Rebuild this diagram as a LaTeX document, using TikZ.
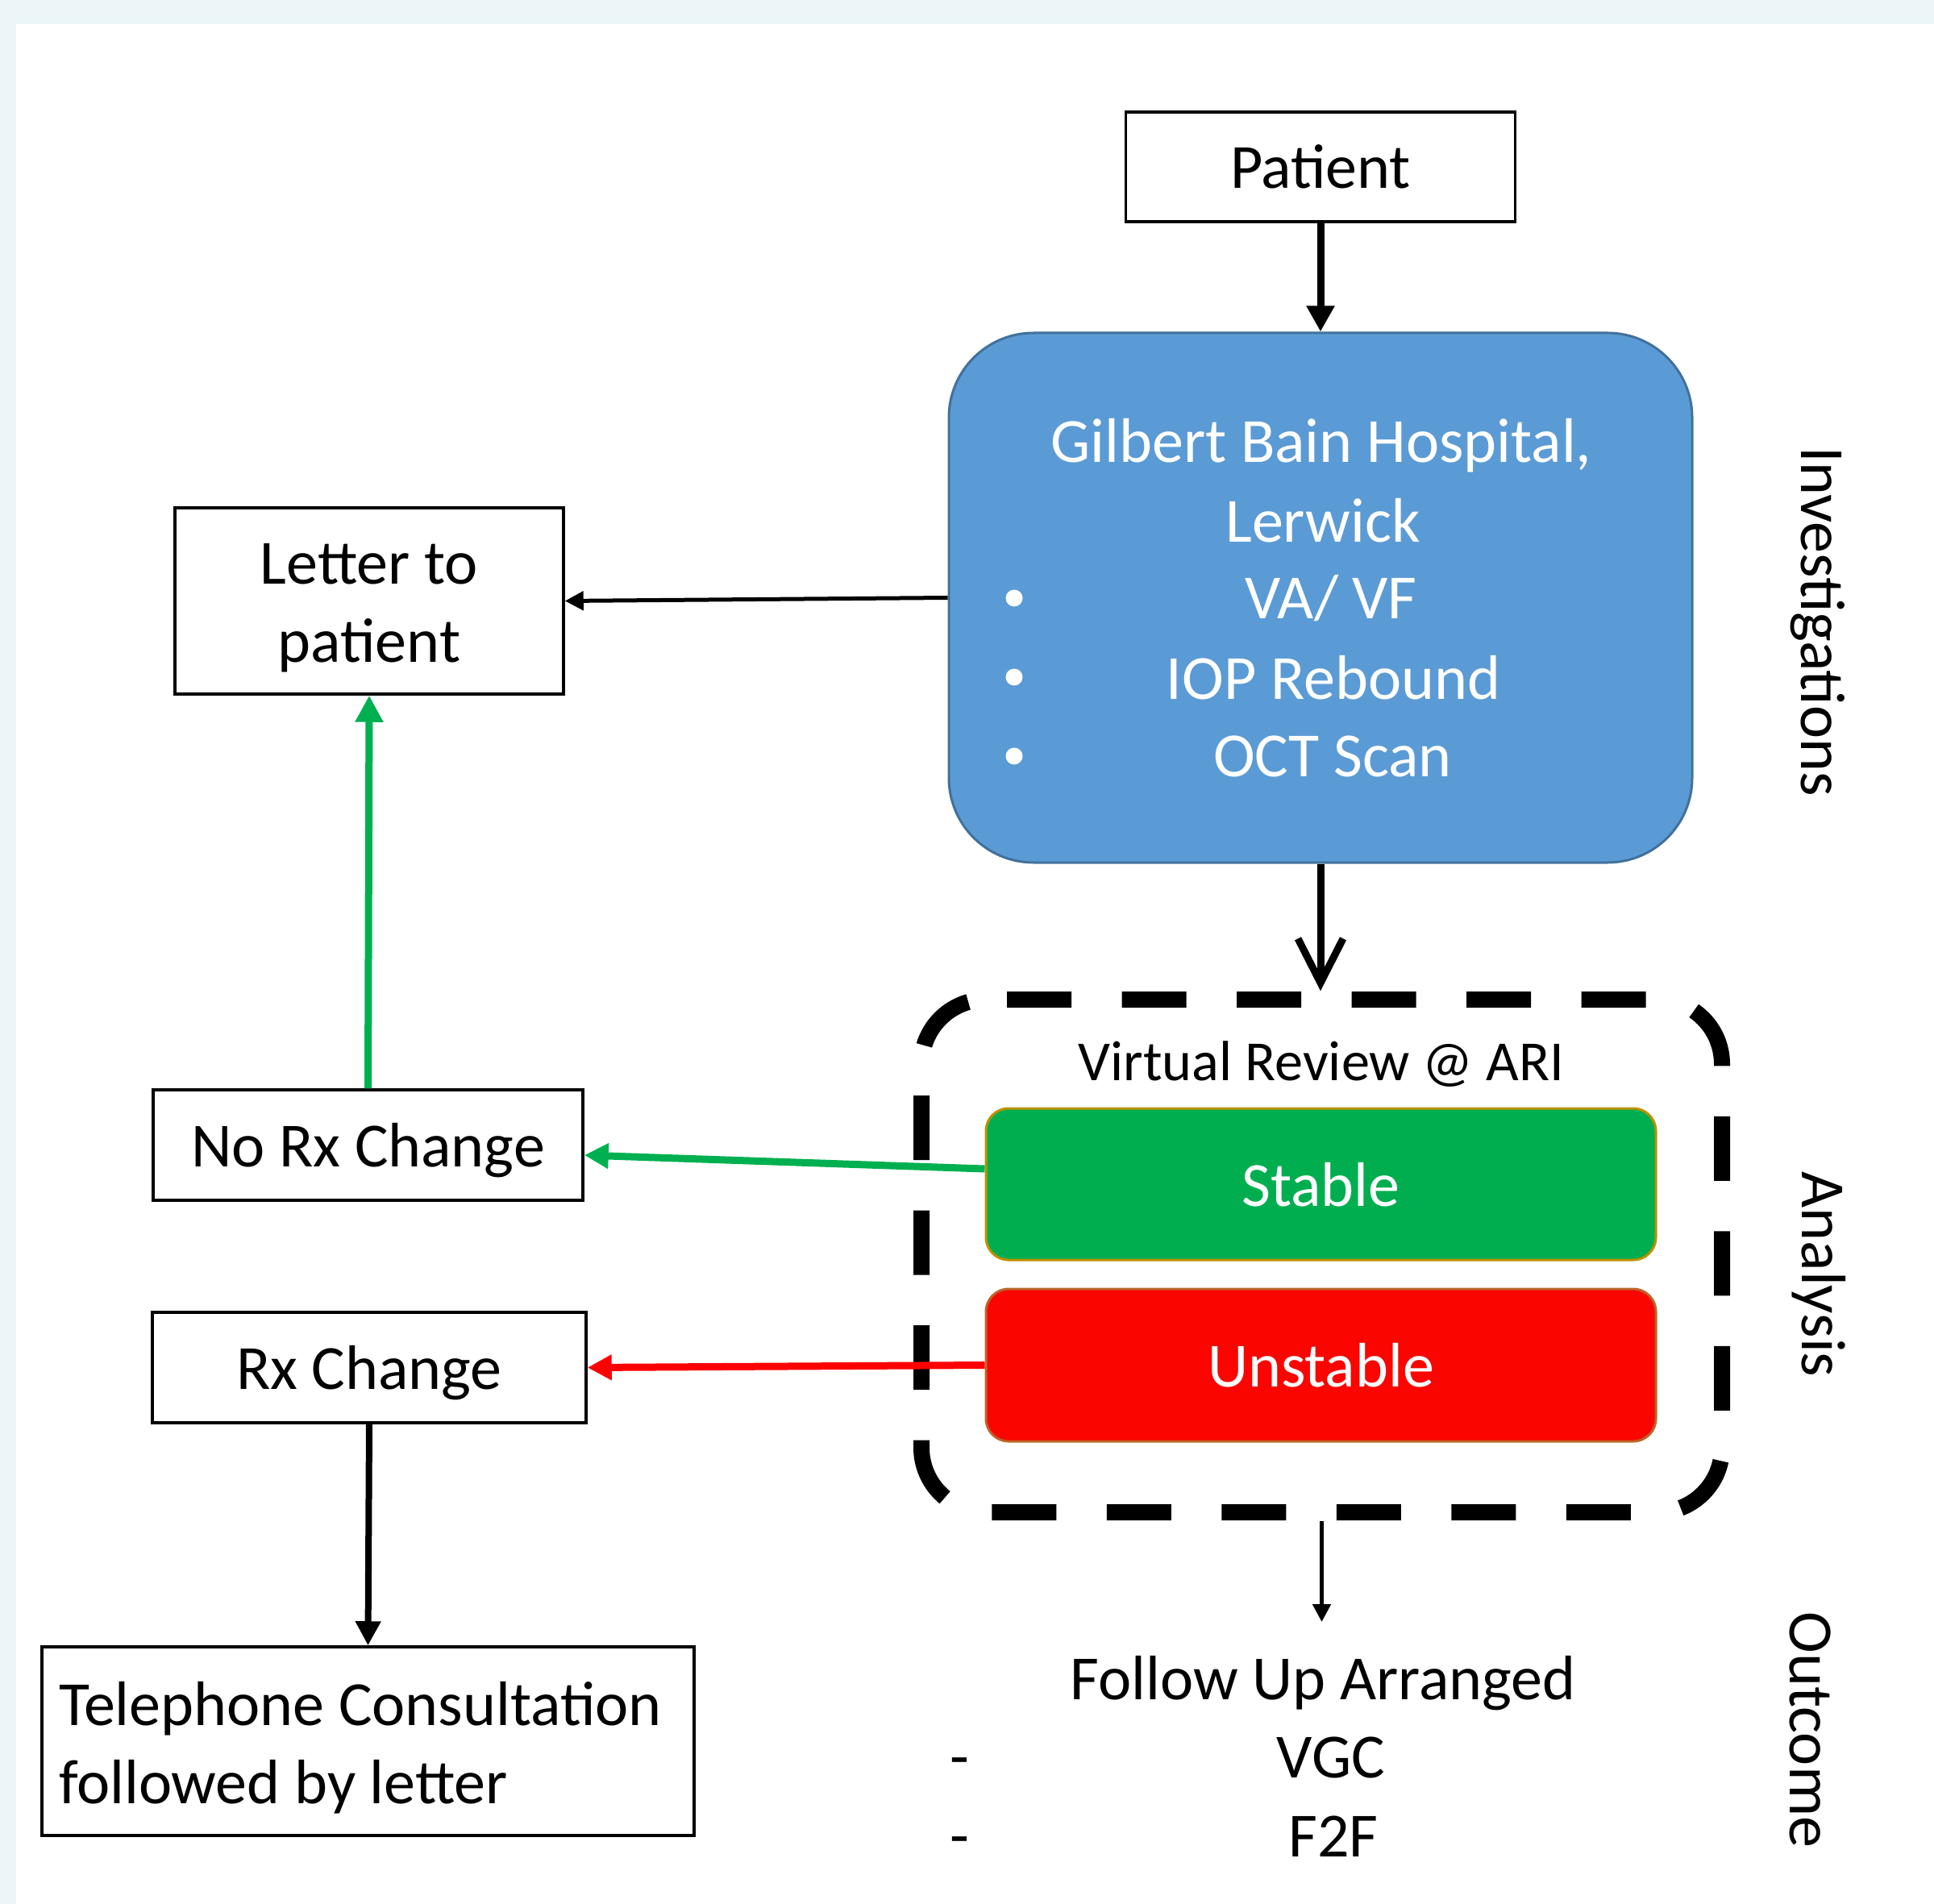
\documentclass[tikz,border=0pt]{standalone}
\usepackage{fontspec}
\setmainfont{Carlito}
\usetikzlibrary{arrows.meta}
\definecolor{bgblue}{RGB}{236,246,249}
\definecolor{gbhfill}{RGB}{91,155,213}
\definecolor{gbhdraw}{RGB}{65,113,156}
\definecolor{stablefill}{RGB}{0,174,80}
\definecolor{stabledraw}{RGB}{191,144,0}
\definecolor{unstablefill}{RGB}{250,5,0}
\definecolor{unstabledraw}{RGB}{190,100,40}
\definecolor{arrgreen}{RGB}{0,176,80}
\definecolor{arrred}{RGB}{255,0,0}
\begin{document}
\begin{tikzpicture}[
  mainfs/.style={font=\fontsize{22.2pt}{27.6pt}\selectfont},
  txt/.style={mainfs, inner sep=0pt},
  whitetxt/.style={txt, text=white},
  sidelabel/.style={txt, rotate=-90, anchor=base},
  plainbox/.style={draw=black, line width=0.035cm, fill=white, mainfs, inner sep=0pt, text depth=0pt},
  multibox/.style={draw=black, line width=0.035cm, fill=white, mainfs, inner sep=0pt},
  bluebox/.style={draw=gbhdraw, fill=gbhfill, line width=0.03cm, rounded corners=1.05cm, inner sep=0pt},
  stablebox/.style={draw=stabledraw, fill=stablefill, line width=0.03cm, rounded corners=0.28cm, mainfs, text=white, inner sep=0pt, text depth=0pt},
  unstablebox/.style={draw=unstabledraw, fill=unstablefill, line width=0.03cm, rounded corners=0.28cm, mainfs, text=white, inner sep=0pt, text depth=0pt},
  frame/.style={line width=0.2cm, dash pattern=on 0.8cm off 0.625cm, dash phase=1.165cm},
  conn/.style={draw=black}
]
\useasboundingbox (0,0) rectangle (23.99,-23.62);
\fill[bgblue] (0,0) rectangle (23.99,-23.62);
\fill[white] (0.20,-0.30) rectangle (23.99,-23.62);

% top box
\node[plainbox, minimum width=4.83cm, minimum height=1.36cm] (patient) at (16.38,-2.07) {Patient};

% blue investigations box
\node[bluebox, minimum width=9.22cm, minimum height=6.57cm] (gbh) at (16.38,-7.415) {};
\node[whitetxt, anchor=base] (gbh1) at (16.39,-5.74) {Gilbert Bain Hospital,};
\node[whitetxt, anchor=base] (gbh2) at (16.41,-6.72) {Lerwick};
\node[whitetxt, anchor=base] (gbh3) at (16.51,-7.68) {VA/ VF};
\node[whitetxt, anchor=base] (gbh4) at (16.54,-8.67) {IOP Rebound};
\node[whitetxt, anchor=base] (gbh5) at (16.53,-9.63) {OCT Scan};
\fill[white] (12.58,-7.42) circle (0.105);
\fill[white] (12.58,-8.40) circle (0.105);
\fill[white] (12.58,-9.38) circle (0.105);

% left boxes
\node[multibox, align=center, minimum width=4.82cm, minimum height=2.31cm] (letter) at (4.58,-7.455) {\rule{0pt}{0.67cm}Letter to\\patient};
\node[plainbox, minimum width=5.33cm, minimum height=1.37cm] (norx) at (4.565,-14.205) {No Rx Change};
\node[plainbox, minimum width=5.38cm, minimum height=1.37cm] (rx) at (4.58,-16.965) {Rx Change};
\node[multibox, align=flush left, text width=7.67cm, minimum width=8.09cm, minimum height=2.34cm] (tel) at (4.565,-21.60) {\rule{0pt}{0.70cm}Telephone Consultation\\followed by letter};

% analysis frame
\node[inner sep=0pt, minimum width=10.13cm, minimum height=6.56cm] (review) at (16.395,-15.58) {};
\draw[frame] (12.23,-12.40) -- (20.56,-12.40) arc[start angle=90, end angle=0, radius=0.8]
  -- (21.36,-17.96) arc[start angle=0, end angle=-90, radius=0.8]
  -- (12.23,-18.76) arc[start angle=270, end angle=180, radius=0.8]
  -- (11.43,-13.20) arc[start angle=180, end angle=90, radius=0.8] -- cycle;
\node[inner sep=0pt, font=\fontsize{20pt}{24pt}\selectfont, anchor=base] (vr) at (16.39,-13.40) {Virtual Review @ ARI};
\node[stablebox, minimum width=8.31cm, minimum height=1.88cm] (stable) at (16.385,-14.69) {Stable};
\node[unstablebox, minimum width=8.31cm, minimum height=1.89cm] (unstable) at (16.385,-16.935) {Unstable};

% outcome
\coordinate (futip) at (16.395,-20.12);
\node[txt, anchor=base] (fu) at (16.41,-21.08) {Follow Up Arranged};
\node[txt, anchor=base] (vgc) at (16.51,-22.05) {VGC};
\node[txt, anchor=base] (f2f) at (16.54,-23.03) {F2F};
\node[txt, anchor=base] (d1) at (11.90,-22.05) {-};
\node[txt, anchor=base] (d2) at (11.90,-23.03) {-};

% side labels
\node[sidelabel] (lab1) at (22.34,-7.71) {Investigations};
\node[sidelabel] (lab2) at (22.35,-15.81) {Analysis};
\node[sidelabel] (lab3) at (22.20,-21.46) {Outcome};

% connectors
\draw[conn, line width=0.09cm, -{Triangle[length=0.32cm,width=0.33cm]}] (patient.south) -- (gbh.north);
\draw[conn, line width=0.05cm, -{Triangle[length=0.23cm,width=0.23cm]}] (gbh.west) -- (letter.east);
\draw[draw=arrgreen, line width=0.09cm, -{Triangle[length=0.33cm,width=0.33cm]}, arrgreen] (norx.north) -- (letter.south);
\draw[draw=arrgreen, line width=0.09cm, -{Triangle[length=0.3cm,width=0.3cm]}, arrgreen] ([yshift=0.19cm]stable.west) -- ([yshift=-0.125cm]norx.east);
\draw[draw=arrred, line width=0.09cm, -{Triangle[length=0.3cm,width=0.3cm]}, arrred] (unstable.west) -- (rx.east);
\draw[conn, line width=0.08cm, -{Triangle[length=0.3cm,width=0.3cm]}] (rx.south) -- (tel.north);
\draw[conn, line width=0.09cm, -{Straight Barb[length=0.55cm,width=0.56cm]}] (gbh.south) -- (gbh.south |- review.north);
\draw[conn, line width=0.05cm, -{Triangle[length=0.22cm,width=0.22cm]}] (review.south) -- (futip);
\end{tikzpicture}
\end{document}
